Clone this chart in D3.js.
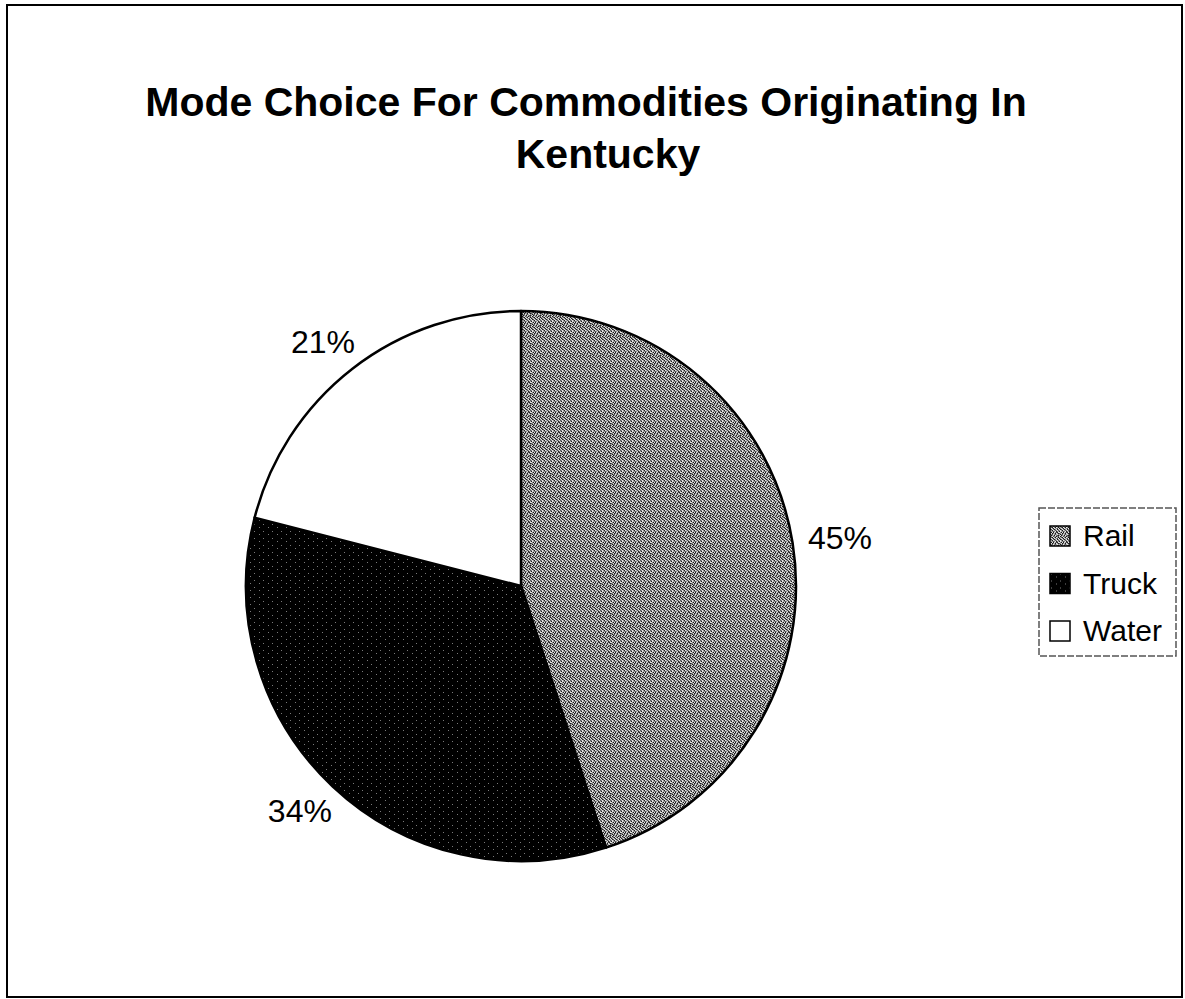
<!DOCTYPE html>
<html>
<head>
<meta charset="utf-8">
<script src="https://cdn.jsdelivr.net/npm/d3@7"></script>
<style>
  html, body { margin: 0; padding: 0; background: #fff; }
  svg { display: block; }
</style>
</head>
<body>
<svg id="chart" width="1185" height="999"></svg>
<script>
// Share of commodity tonnage by transport mode
const modes = ["Rail", "Truck", "Water"];
const shares = [45, 34, 21];
const titleLines = ["Mode Choice For Commodities Originating In", "Kentucky"];

const W = 1185, H = 999;
const svg = d3.select("#chart");
const defs = svg.append("defs");

// Pixel-grid fills: grainy gray for rail, dotted black for truck
const palette = { w: "#e4e4e4", k: "#1a1a1a", g: "#8a8a8a", l: "#acacac", d: "#555555", K: "#000000", D: "#7a7a7a" };
function gridPattern(id, rows) {
  const p = defs.append("pattern")
    .attr("id", id)
    .attr("patternUnits", "userSpaceOnUse")
    .attr("width", rows[0].length)
    .attr("height", rows.length);
  rows.forEach((row, y) => {
    [...row].forEach((ch, x) => {
      p.append("rect").attr("x", x).attr("y", y).attr("width", 1).attr("height", 1)
        .attr("fill", palette[ch]);
    });
  });
}
gridPattern("fill-rail", [
  "wkgwdglkgd",
  "gldkwgkwlk",
  "kgwgkwlgdw",
  "wkdwgkgwkg",
  "gwgkwldgwd",
  "kwlgdgwkgl",
  "wgkwkwgdkw",
  "dgwkglkwgk",
  "lkgdwgdlwg",
  "gwkglkwgdk"
]);
gridPattern("fill-truck", [
  "KKKKKKKKK",
  "KKKDKKKKK",
  "KKKKKKKKK",
  "KKKKKKKKK",
  "KKKKKKKKD",
  "KKKKKKKKK",
  "KKKKKKKKK"
]);
const fills = d3.scaleOrdinal().domain(modes)
  .range(["url(#fill-rail)", "url(#fill-truck)", "#ffffff"]);

// Outer frame
svg.append("rect")
  .attr("x", 7).attr("y", 5).attr("width", 1175).attr("height", 992)
  .attr("fill", "none").attr("stroke", "#000").attr("stroke-width", 2);

// Title, one centred line per entry
const titleX = [586, 608];
const title = svg.append("text")
  .attr("text-anchor", "middle")
  .attr("font-family", "'Liberation Sans', Arial, sans-serif")
  .attr("font-weight", "bold")
  .attr("font-size", 41)
  .attr("fill", "#000");
titleLines.forEach((t, i) => {
  title.append("tspan").attr("x", titleX[i]).attr("y", 116 + i * 52).text(t);
});

// Pie
const cx = 521, cy = 586, R = 275;
const data = modes.map((m, i) => ({ mode: m, value: shares[i] }));
const pie = d3.pie().sort(null).value(d => d.value);
const arc = d3.arc().innerRadius(0).outerRadius(R);
const arcs = pie(data);

const g = svg.append("g").attr("transform", `translate(${cx},${cy})`);
g.selectAll("path.slice")
  .data(arcs)
  .join("path")
  .attr("class", "slice")
  .attr("d", arc)
  .attr("fill", d => fills(d.data.mode))
  .attr("stroke", "#000")
  .attr("stroke-width", 2.5)
  .attr("stroke-linejoin", "round");

// Percentage labels, pushed just outside the rim along each slice's mid-angle
const labelFont = 32, gap = 16;
g.selectAll("text.pct")
  .data(arcs)
  .join("text")
  .attr("class", "pct")
  .attr("font-family", "'Liberation Sans', Arial, sans-serif")
  .attr("font-size", labelFont)
  .attr("fill", "#000")
  .attr("text-anchor", "middle")
  .attr("dominant-baseline", "central")
  .text(d => d.data.value + "%")
  .each(function(d) {
    const a = (d.startAngle + d.endAngle) / 2;
    const ux = Math.sin(a), uy = -Math.cos(a);
    const bb = this.getBBox();
    const x = ux * (R + gap) + ux * bb.width / 2;
    const y = uy * (R + gap) + uy * bb.height / 2;
    d3.select(this).attr("x", x).attr("y", y);
  });

// Legend
const lg = svg.append("g").attr("transform", "translate(1039,508)");
lg.append("rect")
  .attr("width", 137).attr("height", 148)
  .attr("fill", "#fff")
  .attr("stroke", "#555").attr("stroke-width", 1.5)
  .attr("stroke-dasharray", "7,2");
const rowY = d3.scalePoint().domain(modes).range([38, 133]);
const items = lg.selectAll("g.item").data(modes).join("g")
  .attr("class", "item")
  .attr("transform", d => `translate(0,${rowY(d)})`);
items.append("rect")
  .attr("x", 11).attr("y", -20).attr("width", 20).attr("height", 20)
  .attr("fill", d => fills(d))
  .attr("stroke", "#000").attr("stroke-width", 1.5);
items.append("text")
  .attr("x", 44).attr("y", 0)
  .attr("font-family", "'Liberation Sans', Arial, sans-serif")
  .attr("font-size", 30)
  .attr("fill", "#000")
  .text(d => d);
</script>
</body>
</html>
